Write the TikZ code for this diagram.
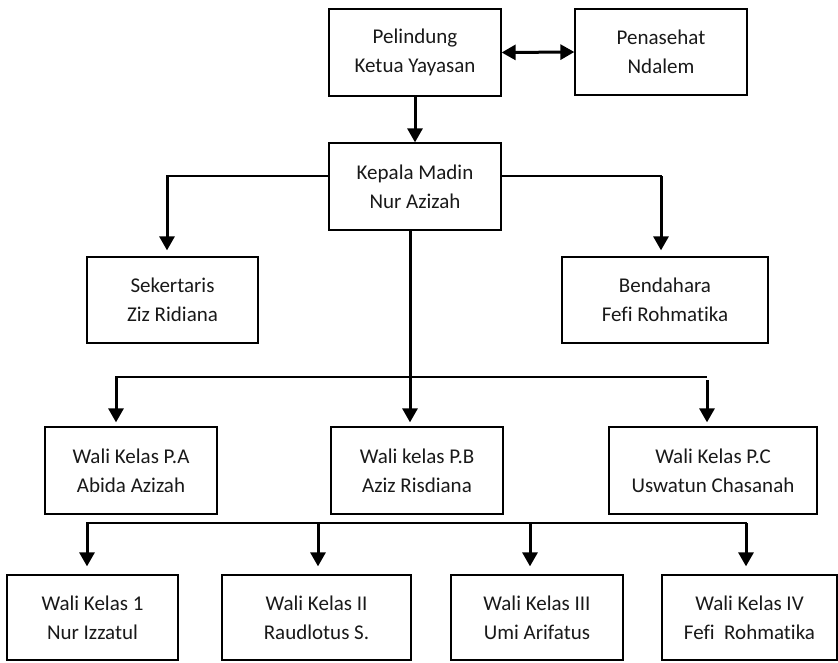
\documentclass[tikz,border=0pt]{standalone}
\usepackage{fontspec}
\setmainfont{Carlito}[Ligatures=NoCommon]
\usetikzlibrary{arrows.meta}
\tikzset{
  box/.style={draw=black, line width=1.3pt, rectangle, align=center, inner sep=0pt,
     font=\fontsize{21}{29}\selectfont, text=black!90},
  bus/.style={line width=1.6pt},
  arr/.style={line width=3pt, -{Triangle[width=15pt,length=14pt]}},
  darr/.style={line width=3pt, {Triangle[width=15pt,length=14pt]}-{Triangle[width=15pt,length=14pt]}}
}
\begin{document}
\begin{tikzpicture}[x=1pt,y=-1pt]
\useasboundingbox (0,0) rectangle (838,662);
\fill[white] (0,0) rectangle (838,662);
% boxes
\node[box, minimum width=172pt, minimum height=87pt] (pel) at (415,52.5) {Pelindung\\Ketua Yayasan};
\node[box, minimum width=172pt, minimum height=86pt] (pen) at (661,52) {Penasehat\\Ndalem};
\node[box, minimum width=172pt, minimum height=87pt] (kep) at (415,186.5) {Kepala Madin\\Nur Azizah};
\node[box, minimum width=171pt, minimum height=86pt] (sek) at (172.5,300) {Sekertaris\\Ziz Ridiana};
\node[box, minimum width=206pt, minimum height=86pt] (ben) at (665,300) {Bendahara\\Fefi Rohmatika};
\node[box, minimum width=172pt, minimum height=87pt] (pa) at (131,470.5) {Wali Kelas P.A\\Abida Azizah};
\node[box, minimum width=172pt, minimum height=87pt] (pb) at (417,470.5) {Wali kelas P.B\\Aziz Risdiana};
\node[box, minimum width=208pt, minimum height=87pt] (pc) at (713,470.5) {Wali Kelas P.C\\Uswatun Chasanah};
\node[box, minimum width=171pt, minimum height=85pt] (w1) at (92.5,617.5) {Wali Kelas 1\\Nur Izzatul};
\node[box, minimum width=189pt, minimum height=85pt] (w2) at (316.5,617.5) {Wali Kelas II\\Raudlotus S.};
\node[box, minimum width=172pt, minimum height=85pt] (w3) at (537,617.5) {Wali Kelas III\\Umi Arifatus};
\node[box, minimum width=175pt, minimum height=85pt] (w4) at (749.5,617.5) {Wali Kelas IV\\Fefi~ Rohmatika};
% top connectors
\draw[darr] (pel.east) -- (pen.west);
\draw[arr] (pel.south) -- (kep.north);
% kepala to sekertaris / bendahara
\coordinate (kl) at (167,176);
\coordinate (kr) at (661,176);
\draw[bus] (kep.west |- kl) -- ([xshift=-0.8pt]kl);
\draw[arr, shorten >=6pt] (kl) -- (kl |- sek.north);
\draw[bus] (kep.east |- kr) -- ([xshift=0.8pt]kr);
\draw[arr, shorten >=6pt] (kr) -- (kr |- ben.north);
% trunk to wali kelas P.A/B/C
\coordinate (t) at (410,377);
\coordinate (bl) at (116,377);
\coordinate (br) at (707,377);
\draw[arr, shorten >=4pt] (kep.south -| t) -- (t |- pb.north);
\draw[bus] ([xshift=-0.8pt]bl) -- (br);
\draw[arr, shorten >=4pt] (bl) -- (bl |- pa.north);
\draw[arr, shorten >=4pt] ([yshift=-3pt]br) -- (br |- pc.north);
% lower bus
\coordinate (c1) at (87,523);
\coordinate (c2) at (318,523);
\coordinate (c3) at (530,523);
\coordinate (c4) at (746,523);
\draw[bus] ([xshift=-0.8pt]c1) -- ([xshift=0.8pt]c4);
\draw[arr, shorten >=8pt] (c1) -- (c1 |- w1.north);
\draw[arr, shorten >=8pt] (c2) -- (c2 |- w2.north);
\draw[arr, shorten >=8pt] (c3) -- (c3 |- w3.north);
\draw[arr, shorten >=8pt] (c4) -- (c4 |- w4.north);
\end{tikzpicture}
\end{document}
